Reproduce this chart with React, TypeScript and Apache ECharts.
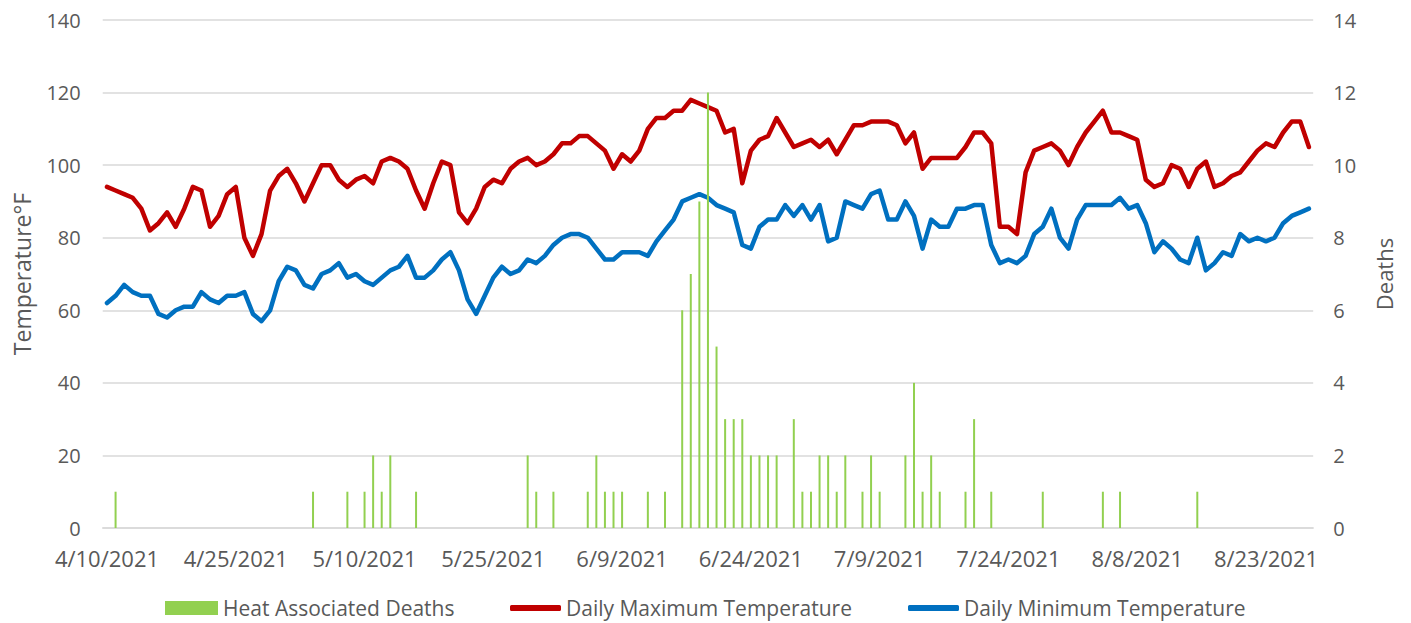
import React, { useEffect, useRef } from "react";
import * as echarts from "echarts";

// Days from 4/10/2021 to 8/28/2021 (141 days)
const START_YEAR = 2021;
const START_MONTH = 3; // April (0-based)
const START_DAY = 10;
const DAY_COUNT = 141;

const dates: string[] = Array.from({ length: DAY_COUNT }, (_, i) => {
  const d = new Date(START_YEAR, START_MONTH, START_DAY + i);
  return `${d.getMonth() + 1}/${d.getDate()}/${d.getFullYear()}`;
});

const heatDeaths: number[] = [
  0, 1, 0, 0, 0, 0, 0, 0, 0, 0,
  0, 0, 0, 0, 0, 0, 0, 0, 0, 0,
  0, 0, 0, 0, 1, 0, 0, 0, 1, 0,
  1, 2, 1, 2, 0, 0, 1, 0, 0, 0,
  0, 0, 0, 0, 0, 0, 0, 0, 0, 2,
  1, 0, 1, 0, 0, 0, 1, 2, 1, 1,
  1, 0, 0, 1, 0, 1, 0, 6, 7, 9,
  12, 5, 3, 3, 3, 2, 2, 2, 2, 0,
  3, 1, 1, 2, 2, 1, 2, 0, 1, 2,
  1, 0, 0, 2, 4, 1, 2, 1, 0, 0,
  1, 3, 0, 1, 0, 0, 0, 0, 0, 1,
  0, 0, 0, 0, 0, 0, 1, 0, 1, 0,
  0, 0, 0, 0, 0, 0, 0, 1, 0, 0,
  0, 0, 0, 0, 0, 0, 0, 0, 0, 0,
  0,
];

const maxTemp: number[] = [
  94, 93, 92, 91, 88, 82, 84, 87, 83, 88,
  94, 93, 83, 86, 92, 94, 80, 75, 81, 93,
  97, 99, 95, 90, 95, 100, 100, 96, 94, 96,
  97, 95, 101, 102, 101, 99, 93, 88, 95, 101,
  100, 87, 84, 88, 94, 96, 95, 99, 101, 102,
  100, 101, 103, 106, 106, 108, 108, 106, 104, 99,
  103, 101, 104, 110, 113, 113, 115, 115, 118, 117,
  116, 115, 109, 110, 95, 104, 107, 108, 113, 109,
  105, 106, 107, 105, 107, 103, 107, 111, 111, 112,
  112, 112, 111, 106, 109, 99, 102, 102, 102, 102,
  105, 109, 109, 106, 83, 83, 81, 98, 104, 105,
  106, 104, 100, 105, 109, 112, 115, 109, 109, 108,
  107, 96, 94, 95, 100, 99, 94, 99, 101, 94,
  95, 97, 98, 101, 104, 106, 105, 109, 112, 112,
  105,
];

const minTemp: number[] = [
  62, 64, 67, 65, 64, 64, 59, 58, 60, 61,
  61, 65, 63, 62, 64, 64, 65, 59, 57, 60,
  68, 72, 71, 67, 66, 70, 71, 73, 69, 70,
  68, 67, 69, 71, 72, 75, 69, 69, 71, 74,
  76, 71, 63, 59, 64, 69, 72, 70, 71, 74,
  73, 75, 78, 80, 81, 81, 80, 77, 74, 74,
  76, 76, 76, 75, 79, 82, 85, 90, 91, 92,
  91, 89, 88, 87, 78, 77, 83, 85, 85, 89,
  86, 89, 85, 89, 79, 80, 90, 89, 88, 92,
  93, 85, 85, 90, 86, 77, 85, 83, 83, 88,
  88, 89, 89, 78, 73, 74, 73, 75, 81, 83,
  88, 80, 77, 85, 89, 89, 89, 89, 91, 88,
  89, 84, 76, 79, 77, 74, 73, 80, 71, 73,
  76, 75, 81, 79, 80, 79, 80, 84, 86, 87,
  88,
];

const SERIES_DEATHS = "Heat Associated Deaths";
const SERIES_MAX = "Daily Maximum Temperature";
const SERIES_MIN = "Daily Minimum Temperature";

const FONT = "Open Sans";
const TEXT_COLOR = "#595959";
const GRID_COLOR = "#d9d9d9";

export default function App() {
  const ref = useRef<HTMLDivElement>(null);

  useEffect(() => {
    if (!ref.current) return;
    const chart = echarts.init(ref.current, null, { renderer: "svg" });
    const legendText = { fontSize: 21, lineHeight: 22, color: TEXT_COLOR, fontFamily: FONT };
    chart.setOption({
      animation: false,
      backgroundColor: "#ffffff",
      grid: { left: 102.7, right: 97.8, top: 20, bottom: 95 },
      legend: [
        {
          data: [{ name: SERIES_DEATHS, icon: "rect" }],
          left: 160,
          top: 592,
          itemWidth: 53,
          itemHeight: 14,
          textStyle: legendText,
        },
        {
          data: [{ name: SERIES_MAX, icon: "roundRect" }],
          left: 505,
          top: 592,
          itemWidth: 51,
          itemHeight: 6,
          textStyle: legendText,
        },
        {
          data: [{ name: SERIES_MIN, icon: "roundRect" }],
          left: 903,
          top: 592,
          itemWidth: 51,
          itemHeight: 6,
          textStyle: legendText,
        },
      ],
      xAxis: {
        type: "category",
        data: dates,
        boundaryGap: true,
        axisLine: { show: true, lineStyle: { color: GRID_COLOR, width: 1.5 } },
        axisTick: { show: false },
        axisLabel: {
          interval: 14,
          color: TEXT_COLOR,
          fontSize: 22,
          fontFamily: FONT,
          margin: 19,
        },
        splitLine: { show: false },
      },
      yAxis: [
        {
          type: "value",
          min: 0,
          max: 140,
          interval: 20,
          name: "Temperature°F",
          nameLocation: "middle",
          nameRotate: 90,
          nameGap: 69,
          nameTextStyle: { fontSize: 23, color: TEXT_COLOR, fontFamily: FONT },
          axisLine: { show: false },
          axisTick: { show: false },
          axisLabel: { color: TEXT_COLOR, fontSize: 20, fontFamily: FONT, margin: 22 },
          splitLine: { show: true, lineStyle: { color: GRID_COLOR, width: 1.5 } },
        },
        {
          type: "value",
          position: "right",
          min: 0,
          max: 14,
          interval: 2,
          name: "Deaths",
          nameLocation: "middle",
          nameRotate: 90,
          nameGap: 60,
          nameTextStyle: { fontSize: 22, color: TEXT_COLOR, fontFamily: FONT },
          axisLine: { show: false },
          axisTick: { show: false },
          axisLabel: { color: TEXT_COLOR, fontSize: 20, fontFamily: FONT, margin: 20 },
          splitLine: { show: false },
        },
      ],
      series: [
        {
          name: SERIES_MAX,
          type: "line",
          data: maxTemp,
          yAxisIndex: 0,
          color: "#C00000",
          symbol: "none",
          z: 2,
          lineStyle: { width: 4.5, color: "#C00000", cap: "round", join: "round" },
        },
        {
          name: SERIES_MIN,
          type: "line",
          data: minTemp,
          yAxisIndex: 0,
          color: "#0070C0",
          symbol: "none",
          z: 2,
          lineStyle: { width: 4.5, color: "#0070C0", cap: "round", join: "round" },
        },
        {
          name: SERIES_DEATHS,
          type: "bar",
          data: heatDeaths,
          yAxisIndex: 1,
          barWidth: 2,
          color: "#92D050",
          z: 3,
          itemStyle: { color: "#92D050" },
        },
      ],
    });
    return () => chart.dispose();
  }, []);

  return (
    <div
      ref={ref}
      style={{ position: "fixed", left: 0, top: 0, width: 1411, height: 623, background: "#fff" }}
    />
  );
}
